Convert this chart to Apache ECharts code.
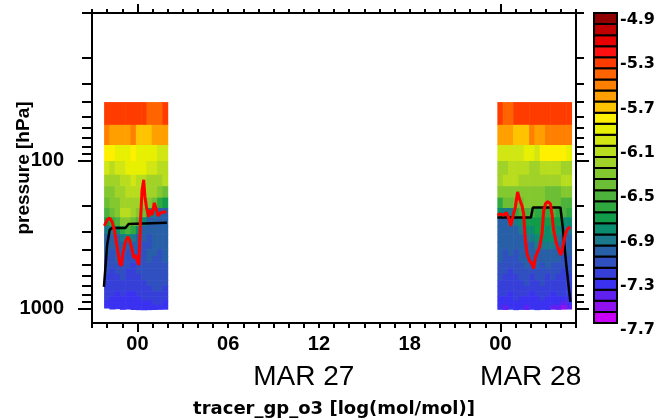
<!DOCTYPE html>
<html>
<head>
<meta charset="utf-8">
<script src="https://cdn.jsdelivr.net/npm/echarts@6/dist/echarts.min.js"></script>
<style>
  html, body { margin: 0; padding: 0; background: #fff; }
  #chart { width: 663px; height: 420px; }
</style>
</head>
<body>
<div id="chart"></div>
<script>
// x values are hours after MAR 27 00:00
const xLabelHours = [0, 6, 12, 18, 24];
const xLabels = ['00', '06', '12', '18', '00'];
const dayHours = [0, 24];
const dateHours = [11, 26];
const dateLabels = ['MAR 27', 'MAR 28'];
const yLabelValues = [100, 1000];
const yMinorTicks = [10, 20, 30, 40, 50, 60, 70, 80, 90, 100, 200, 300, 400, 500, 600, 700, 800, 900, 1000];

// colour bar, log(mol/mol)
const cbLevels = [-7.7, -7.6, -7.5, -7.4, -7.3, -7.2, -7.1, -7.0, -6.9, -6.8, -6.7, -6.6, -6.5, -6.4, -6.3,
  -6.2, -6.1, -6.0, -5.9, -5.8, -5.7, -5.6, -5.5, -5.4, -5.3, -5.2, -5.1, -5.0, -4.9];
const cbColors = ['#c800f8', '#9010f0', '#6020f0', '#3a32f0', '#3640d8', '#3050c0', '#2860a8', '#1a7a8c',
  '#0a8c6e', '#109c48', '#30a840', '#4cb23c', '#6cbe34', '#84c830', '#a0d228', '#b8dc1e', '#d2e614',
  '#e6f000', '#fff000', '#ffc400', '#ffa000', '#ff8000', '#ff6400', '#ff3c00', '#ff1010', '#e80000',
  '#c00000', '#900000'];
const cbLabels = [-7.7, -7.3, -6.9, -6.5, -6.1, -5.7, -5.3, -4.9];

// model layer tops (hPa); last layer reaches the surface
const levelEdges = [40, 57, 78, 100, 124, 148, 177, 208, 240, 275, 312, 352, 394, 438, 484, 531, 580, 640,
  700, 760, 820, 880, 940];
const colWidth = 0.35;

// first profile block
const cols1 = [-2.2, -1.85, -1.5, -1.15, -0.8, -0.45, -0.1, 0.25, 0.6, 0.95, 1.3, 1.65];
const sfc1 = [985, 1000, 995, 1005, 1000, 1008, 1010, 1012, 1010, 1008, 1005, 1003];
const o3Block1 = [
  [-5.35, -5.35, -5.35, -5.35, -5.35, -5.35, -5.35, -5.35, -5.45, -5.45, -5.45, -5.35],
  [-5.55, -5.65, -5.65, -5.65, -5.65, -5.55, -5.75, -5.75, -5.75, -5.65, -5.65, -5.65],
  [-5.85, -5.85, -5.95, -5.95, -5.95, -5.85, -5.95, -5.95, -5.95, -5.95, -6.05, -6.05],
  [-6.05, -6.15, -6.05, -6.05, -5.95, -5.95, -5.95, -5.95, -6.05, -6.05, -6.15, -6.15],
  [-6.25, -6.25, -6.25, -6.15, -6.15, -6.05, -6.15, -6.15, -6.25, -6.25, -6.25, -6.15],
  [-6.35, -6.35, -6.25, -6.25, -6.15, -6.15, -6.15, -6.15, -6.25, -6.25, -6.35, -6.45],
  [-6.45, -6.35, -6.35, -6.25, -6.25, -6.25, -6.25, -6.35, -6.35, -6.45, -6.65, -6.75],
  [-6.55, -6.45, -6.35, -6.15, -6.15, -6.25, -6.35, -6.45, -6.85, -6.95, -7.05, -7.05],
  [-6.75, -6.65, -6.55, -6.35, -6.35, -6.45, -6.55, -6.85, -7.05, -7.05, -7.05, -7.05],
  [-6.95, -6.95, -6.85, -6.65, -6.55, -6.65, -6.85, -7.05, -7.05, -7.05, -7.05, -7.05],
  [-7.05, -7.05, -7.05, -6.95, -6.85, -6.95, -7.05, -7.05, -7.15, -7.05, -7.05, -7.05],
  [-7.05, -7.05, -7.05, -7.05, -7.05, -7.05, -7.05, -7.15, -7.15, -7.05, -7.05, -7.05],
  [-7.05, -7.15, -7.05, -7.05, -7.15, -7.05, -7.15, -7.15, -7.05, -7.05, -7.15, -7.05],
  [-7.15, -7.15, -7.05, -7.15, -7.15, -7.15, -7.15, -7.15, -7.05, -7.15, -7.15, -7.05],
  [-7.15, -7.15, -7.15, -7.15, -7.15, -7.25, -7.15, -7.15, -7.15, -7.15, -7.15, -7.15],
  [-7.15, -7.25, -7.15, -7.15, -7.25, -7.25, -7.15, -7.15, -7.15, -7.15, -7.15, -7.15],
  [-7.25, -7.25, -7.25, -7.15, -7.25, -7.25, -7.25, -7.15, -7.15, -7.15, -7.15, -7.15],
  [-7.25, -7.25, -7.25, -7.25, -7.25, -7.25, -7.25, -7.25, -7.15, -7.15, -7.15, -7.15],
  [-7.25, -7.25, -7.25, -7.25, -7.25, -7.25, -7.25, -7.25, -7.25, -7.15, -7.15, -7.25],
  [-7.25, -7.25, -7.35, -7.25, -7.35, -7.35, -7.25, -7.25, -7.25, -7.25, -7.25, -7.25],
  [-7.25, -7.35, -7.35, -7.35, -7.35, -7.35, -7.35, -7.25, -7.25, -7.25, -7.25, -7.25],
  [-7.35, -7.35, -7.35, -7.35, -7.35, -7.35, -7.35, -7.35, -7.35, -7.25, -7.25, -7.35],
  [-7.35, -7.35, -7.35, -7.35, -7.35, -7.35, -7.35, -7.35, -7.35, -7.35, -7.35, -7.35]
];

// second profile block
const cols2 = [23.8, 24.15, 24.5, 24.85, 25.2, 25.55, 25.9, 26.25, 26.6, 26.95, 27.3, 27.65, 28.0, 28.35];
const sfc2 = [1005, 1008, 1003, 1010, 1006, 1008, 1004, 1010, 1006, 1008, 1003, 1006, 1002, 1000];
const o3Block2 = [
  [-5.35, -5.45, -5.45, -5.35, -5.35, -5.35, -5.35, -5.35, -5.35, -5.35, -5.35, -5.35, -5.35, -5.35],
  [-5.65, -5.65, -5.65, -5.75, -5.75, -5.75, -5.55, -5.65, -5.65, -5.55, -5.55, -5.55, -5.55, -5.55],
  [-6.05, -6.05, -6.05, -6.05, -6.05, -5.95, -5.95, -6.05, -5.85, -5.85, -5.85, -5.85, -5.85, -5.95],
  [-6.25, -6.25, -6.15, -6.15, -6.15, -6.15, -6.25, -6.25, -6.15, -6.15, -6.15, -6.15, -6.25, -6.25],
  [-6.25, -6.15, -6.15, -6.15, -6.25, -6.25, -6.25, -6.25, -6.25, -6.25, -6.25, -6.25, -6.15, -6.15],
  [-6.35, -6.35, -6.35, -6.35, -6.35, -6.35, -6.35, -6.35, -6.35, -6.45, -6.45, -6.45, -6.35, -6.35],
  [-6.65, -6.45, -6.45, -6.45, -6.45, -6.35, -6.35, -6.35, -6.35, -6.45, -6.45, -6.45, -6.55, -6.55],
  [-6.85, -6.95, -6.95, -6.65, -6.55, -6.55, -6.55, -6.65, -6.65, -6.65, -6.55, -6.65, -6.55, -6.65],
  [-7.05, -7.05, -6.95, -6.95, -6.85, -6.75, -6.75, -6.75, -6.75, -6.75, -6.75, -6.75, -6.85, -6.85],
  [-7.05, -7.05, -7.05, -7.05, -6.95, -6.85, -6.85, -6.75, -6.75, -6.85, -6.75, -6.85, -6.95, -6.95],
  [-7.05, -7.05, -7.05, -7.05, -7.05, -6.95, -6.95, -6.85, -6.85, -6.85, -6.85, -6.95, -7.05, -7.05],
  [-7.05, -7.05, -7.05, -7.05, -7.05, -7.05, -7.05, -6.95, -6.95, -6.95, -6.95, -7.05, -7.05, -7.05],
  [-7.05, -7.15, -7.05, -7.15, -7.05, -7.05, -7.05, -7.05, -7.05, -7.05, -7.05, -7.05, -7.15, -7.05],
  [-7.05, -7.15, -7.15, -7.15, -7.05, -7.05, -7.05, -7.05, -7.05, -7.05, -7.05, -7.05, -7.15, -7.15],
  [-7.15, -7.15, -7.15, -7.15, -7.15, -7.05, -7.15, -7.05, -7.15, -7.05, -7.15, -7.15, -7.15, -7.15],
  [-7.15, -7.15, -7.25, -7.15, -7.15, -7.15, -7.15, -7.15, -7.15, -7.15, -7.15, -7.15, -7.25, -7.15],
  [-7.15, -7.25, -7.25, -7.25, -7.15, -7.15, -7.25, -7.15, -7.15, -7.25, -7.15, -7.25, -7.25, -7.25],
  [-7.25, -7.25, -7.25, -7.25, -7.25, -7.15, -7.25, -7.25, -7.15, -7.25, -7.25, -7.25, -7.25, -7.25],
  [-7.25, -7.25, -7.25, -7.25, -7.25, -7.25, -7.25, -7.25, -7.25, -7.25, -7.25, -7.25, -7.25, -7.25],
  [-7.25, -7.25, -7.35, -7.25, -7.25, -7.25, -7.35, -7.25, -7.25, -7.25, -7.35, -7.25, -7.25, -7.25],
  [-7.35, -7.35, -7.35, -7.25, -7.35, -7.35, -7.35, -7.35, -7.25, -7.35, -7.35, -7.35, -7.35, -7.35],
  [-7.35, -7.35, -7.35, -7.35, -7.35, -7.35, -7.35, -7.35, -7.35, -7.35, -7.35, -7.35, -7.45, -7.35],
  [-7.35, -7.45, -7.35, -7.35, -7.35, -7.45, -7.35, -7.35, -7.35, -7.35, -7.45, -7.45, -7.55, -7.45]
];

// black line (hPa)
const blackT1 = [-2.21, -2.0, -1.83, -1.67, -0.79, -0.58, 1.95];
const blackP1 = [710, 370, 292, 284, 284, 267, 262];
const blackT2 = [23.8, 26.02, 26.15, 27.97, 28.13, 28.36, 28.63];
const blackP2 = [241, 241, 206, 206, 284, 505, 897];

// red line (hPa)
const redT1 = [-2.18, -2.0, -1.83, -1.67, -1.52, -1.34, -1.17, -1.06, -0.95, -0.79, -0.64, -0.51, -0.35,
  -0.24, -0.13, -0.02, 0.10, 0.20, 0.31, 0.42, 0.50, 0.60, 0.75, 0.86, 0.97, 1.12, 1.26, 1.37, 1.52, 1.74, 1.92];
const redP1 = [275, 250, 243, 258, 292, 381, 489, 512, 419, 353, 326, 342, 399, 452, 432, 445, 504, 262,
  157, 134, 175, 205, 239, 214, 232, 192, 214, 235, 225, 221, 221];
const redT2 = [23.80, 24.00, 24.22, 24.40, 24.55, 24.69, 24.84, 24.99, 25.14, 25.28, 25.43, 25.54, 25.65,
  25.77, 25.94, 26.10, 26.20, 26.31, 26.43, 26.60, 26.76, 26.86, 26.98, 27.13, 27.31, 27.42, 27.52, 27.70,
  27.85, 28.01, 28.15, 28.30, 28.45, 28.63];
const redP2 = [232, 228, 233, 223, 243, 275, 235, 205, 162, 183, 201, 228, 342, 425, 474, 497, 533, 452,
  419, 381, 307, 218, 195, 188, 195, 232, 293, 358, 399, 432, 370, 311, 288, 279];

const titleText = 'tracer_gp_o3 [log(mol/mol)]';
const yName = 'pressure [hPa]';

function zip(a, b) {
  return a.map((v, i) => [v, b[i]]);
}

function colorOf(v) {
  for (let i = 0; i < cbColors.length; i++) {
    if (v >= cbLevels[i] && v < cbLevels[i + 1]) return cbColors[i];
  }
  return v < cbLevels[0] ? cbColors[0] : cbColors[cbColors.length - 1];
}

function cells(cols, sfc, rows) {
  const out = [];
  rows.forEach((row, j) => {
    row.forEach((v, i) => {
      const bottom = j + 1 < levelEdges.length ? levelEdges[j + 1] : sfc[i];
      out.push([cols[i], cols[i] + colWidth, levelEdges[j], bottom, v]);
    });
  });
  return out;
}

const curtain = cells(cols1, sfc1, o3Block1).concat(cells(cols2, sfc2, o3Block2));
const cbBoxes = cbColors.map((c, i) => [cbLevels[i], cbLevels[i + 1], i]);

const hourTicks = [];
for (let h = -3; h <= 29; h++) hourTicks.push(h);

const black = '#000';
const tickFont = { color: black, fontFamily: 'Liberation Sans', fontWeight: 'bold', fontSize: 20 };

function logAxis(pos, len, values, showLine, label) {
  return {
    type: 'log', logBase: 10, min: 10, max: 1245, inverse: true, position: pos,
    axisLine: { show: showLine, onZero: false, lineStyle: { color: black, width: 2 } },
    axisTick: { show: true, inside: false, length: len, customValues: values, lineStyle: { color: black, width: 2 } },
    axisLabel: label || { show: false },
    splitLine: { show: false },
    minorTick: { show: false }
  };
}

function hourAxis(pos, len, values, showLine) {
  return {
    type: 'value', min: -3, max: 29, position: pos,
    axisLine: { show: showLine, onZero: false, lineStyle: { color: black, width: 2 } },
    axisTick: { show: true, inside: false, length: len, customValues: values, lineStyle: { color: black, width: 2 } },
    axisLabel: { show: false },
    splitLine: { show: false }
  };
}

const chart = echarts.init(document.getElementById('chart'), null, { renderer: 'canvas' });

const bottomAxis = hourAxis('bottom', 5, hourTicks, true);
bottomAxis.axisLabel = Object.assign({
  show: true, margin: 11,
  customValues: xLabelHours,
  formatter: v => xLabels[xLabelHours.indexOf(Math.round(v))]
}, tickFont);
bottomAxis.name = titleText;
bottomAxis.nameLocation = 'middle';
bottomAxis.nameGap = 77;
bottomAxis.nameMoveOverlap = false;
bottomAxis.nameTextStyle = { color: black, fontFamily: 'DejaVu Sans', fontWeight: 'bold', fontSize: 18 };

const dateAxis = hourAxis('bottom', 9, dayHours, false);
dateAxis.axisLabel = {
  show: true, margin: 40, customValues: dateHours,
  formatter: v => dateLabels[dateHours.indexOf(Math.round(v))],
  color: black, fontFamily: 'Liberation Sans', fontSize: 28
};

const leftAxis = logAxis('left', 10, yMinorTicks, true, Object.assign({
  show: true, margin: 28, customValues: yLabelValues,
  formatter: v => String(Math.round(v))
}, tickFont));
leftAxis.name = yName;
leftAxis.nameLocation = 'middle';
leftAxis.nameRotate = 90;
leftAxis.nameGap = 59;
leftAxis.nameMoveOverlap = false;
leftAxis.nameTextStyle = { color: black, fontFamily: 'Liberation Sans', fontWeight: 'bold', fontSize: 19 };

chart.setOption({
  animation: false,
  backgroundColor: '#fff',
  grid: [
    { left: 92, top: 13, width: 484, height: 310, outerBoundsMode: 'none', show: false },
    { left: 593, top: 13, width: 25, height: 310, outerBoundsMode: 'none', show: false }
  ],
  xAxis: [
    Object.assign({ gridIndex: 0 }, bottomAxis),
    Object.assign({ gridIndex: 0 }, dateAxis),
    Object.assign({ gridIndex: 0 }, hourAxis('top', 4, hourTicks, true)),
    Object.assign({ gridIndex: 0 }, hourAxis('top', 9, dayHours, false)),
    { gridIndex: 1, type: 'value', min: 0, max: 1, show: false }
  ],
  yAxis: [
    Object.assign({ gridIndex: 0 }, leftAxis),
    Object.assign({ gridIndex: 0 }, logAxis('left', 14, yLabelValues, false)),
    Object.assign({ gridIndex: 0 }, logAxis('right', 8, yMinorTicks, true)),
    Object.assign({ gridIndex: 0 }, logAxis('right', 13, yLabelValues, false)),
    {
      gridIndex: 1, type: 'value', min: -7.7, max: -4.9, position: 'right',
      axisLine: { show: false, onZero: false }, axisTick: { show: false }, splitLine: { show: false },
      axisLabel: {
        show: true, margin: 2, customValues: cbLabels,
        formatter: v => v.toFixed(1),
        verticalAlign: 'top', lineHeight: 14,
        color: black, fontFamily: 'DejaVu Sans', fontWeight: 'bold', fontSize: 16
      }
    }
  ],
  series: [
    {
      type: 'custom', xAxisIndex: 0, yAxisIndex: 0, silent: true, z: 2,
      data: curtain,
      encode: { x: [0, 1], y: [2, 3] },
      renderItem: (params, api) => {
        const a = api.coord([api.value(0), api.value(2)]);
        const b = api.coord([api.value(1), api.value(3)]);
        return {
          type: 'rect',
          shape: { x: a[0], y: a[1], width: b[0] - a[0] + 0.6, height: b[1] - a[1] + 0.6 },
          style: { fill: colorOf(api.value(4)) }
        };
      }
    },
    {
      type: 'line', xAxisIndex: 0, yAxisIndex: 0, data: zip(blackT1, blackP1), showSymbol: false,
      silent: true, z: 4, lineStyle: { color: black, width: 2.5 }
    },
    {
      type: 'line', xAxisIndex: 0, yAxisIndex: 0, data: zip(blackT2, blackP2), showSymbol: false,
      silent: true, z: 4, lineStyle: { color: black, width: 2.5 }
    },
    {
      type: 'line', xAxisIndex: 0, yAxisIndex: 0, data: zip(redT1, redP1), showSymbol: false,
      silent: true, z: 5, lineStyle: { color: '#ff0000', width: 3 }
    },
    {
      type: 'line', xAxisIndex: 0, yAxisIndex: 0, data: zip(redT2, redP2), showSymbol: false,
      silent: true, z: 5, lineStyle: { color: '#ff0000', width: 3 }
    },
    {
      type: 'custom', xAxisIndex: 4, yAxisIndex: 4, silent: true,
      data: cbBoxes,
      encode: { y: [0, 1] },
      renderItem: (params, api) => {
        const a = api.coord([0, api.value(1)]);
        const b = api.coord([1, api.value(0)]);
        return {
          type: 'rect',
          shape: { x: a[0] + 1, y: a[1], width: b[0] - a[0] - 2, height: b[1] - a[1] },
          style: { fill: cbColors[api.value(2)], stroke: black, lineWidth: 2 }
        };
      }
    }
  ]
});
</script>
</body>
</html>
